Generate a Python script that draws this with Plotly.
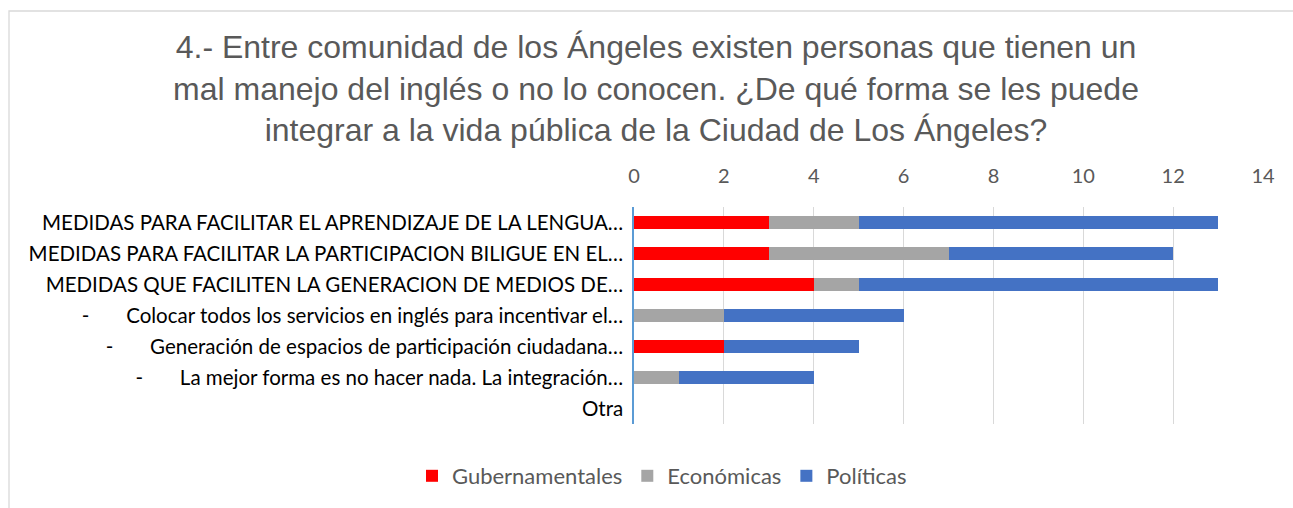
import plotly.graph_objects as go

NB = "\u00a0" * 7
categories = [
    "MEDIDAS PARA FACILITAR EL APRENDIZAJE DE LA LENGUA…",
    "MEDIDAS PARA FACILITAR LA PARTICIPACION BILIGUE EN EL…",
    "MEDIDAS QUE FACILITEN LA GENERACION DE MEDIOS DE…",
    "-" + NB + "Colocar todos los servicios en inglés para incentivar el…",
    "-" + NB + "Generación de espacios de participación ciudadana…",
    "-" + NB + "La mejor forma es no hacer nada. La integración…",
    "Otra",
]
gubernamentales = [3, 3, 4, 0, 2, 0, 0]
economicas = [2, 4, 1, 2, 0, 1, 0]
politicas = [8, 5, 8, 4, 3, 3, 0]
x_ticks = [0, 2, 4, 6, 8, 10, 12, 14]

series = [
    ("Gubernamentales", gubernamentales, "#FF0000"),
    ("Económicas", economicas, "#A5A5A5"),
    ("Políticas", politicas, "#4472C4"),
]

fig = go.Figure()
for name, vals, color in series:
    fig.add_trace(go.Bar(
        y=categories, x=vals, name=name, orientation="h",
        marker=dict(color=color, line=dict(width=0)),
    ))

L, R, T, B = 634, 30, 207, 84
W, H = 1293, 508
pw, ph = W - L - R, H - T - B
LBL_FONT = "Lato, Noto Sans, sans-serif"

fig.update_layout(
    width=W, height=H,
    barmode="stack", bargap=0.57,
    margin=dict(l=L, r=R, t=T, b=B),
    paper_bgcolor="white", plot_bgcolor="white",
    title=dict(
        text="4.- Entre comunidad de los Ángeles existen personas que tienen un<br>"
             "mal manejo del inglés o no lo conocen. ¿De qué forma se les puede<br>"
             "integrar a la vida pública de la Ciudad de Los Ángeles?",
        x=656 / W, xanchor="center", y=1 - 58 / H, yanchor="middle",
        yref="container", xref="container",
        font=dict(family="Liberation Sans, Arial", size=32, color="#595959"),
    ),
    xaxis=dict(
        side="top", range=[0, 14], tickvals=x_ticks,
        showgrid=True, gridcolor="#D9D9D9", gridwidth=1.3,
        zeroline=False, showline=False, ticks="",
        tickfont=dict(family=LBL_FONT, size=20, color="#595959"),
        ticklabelstandoff=19,
    ),
    yaxis=dict(
        autorange="reversed", showgrid=False, zeroline=False,
        showline=True, linecolor="#5B9BD5", linewidth=1.5, ticks="",
        tickfont=dict(family=LBL_FONT, size=20.5, color="#000000"),
        ticklabelstandoff=5,
    ),
    legend=dict(
        orientation="h", x=662 / W, xref="container", xanchor="center",
        y=1 - 476 / H, yref="container", yanchor="middle",
        font=dict(family=LBL_FONT, size=22, color="#595959"),
        traceorder="normal",
    ),
    shapes=[dict(
        type="rect", xref="paper", yref="paper",
        x0=(9 - L) / pw, x1=(W + 20 - L) / pw,
        y0=(H - B - (H + 20)) / ph, y1=(H - B - 11) / ph,
        line=dict(color="#D9D9D9", width=1.3), fillcolor="rgba(0,0,0,0)",
        layer="below",
    )],
)

fig.write_html("out.html", config={"displayModeBar": False},
               post_script="document.body.style.margin='0';")
